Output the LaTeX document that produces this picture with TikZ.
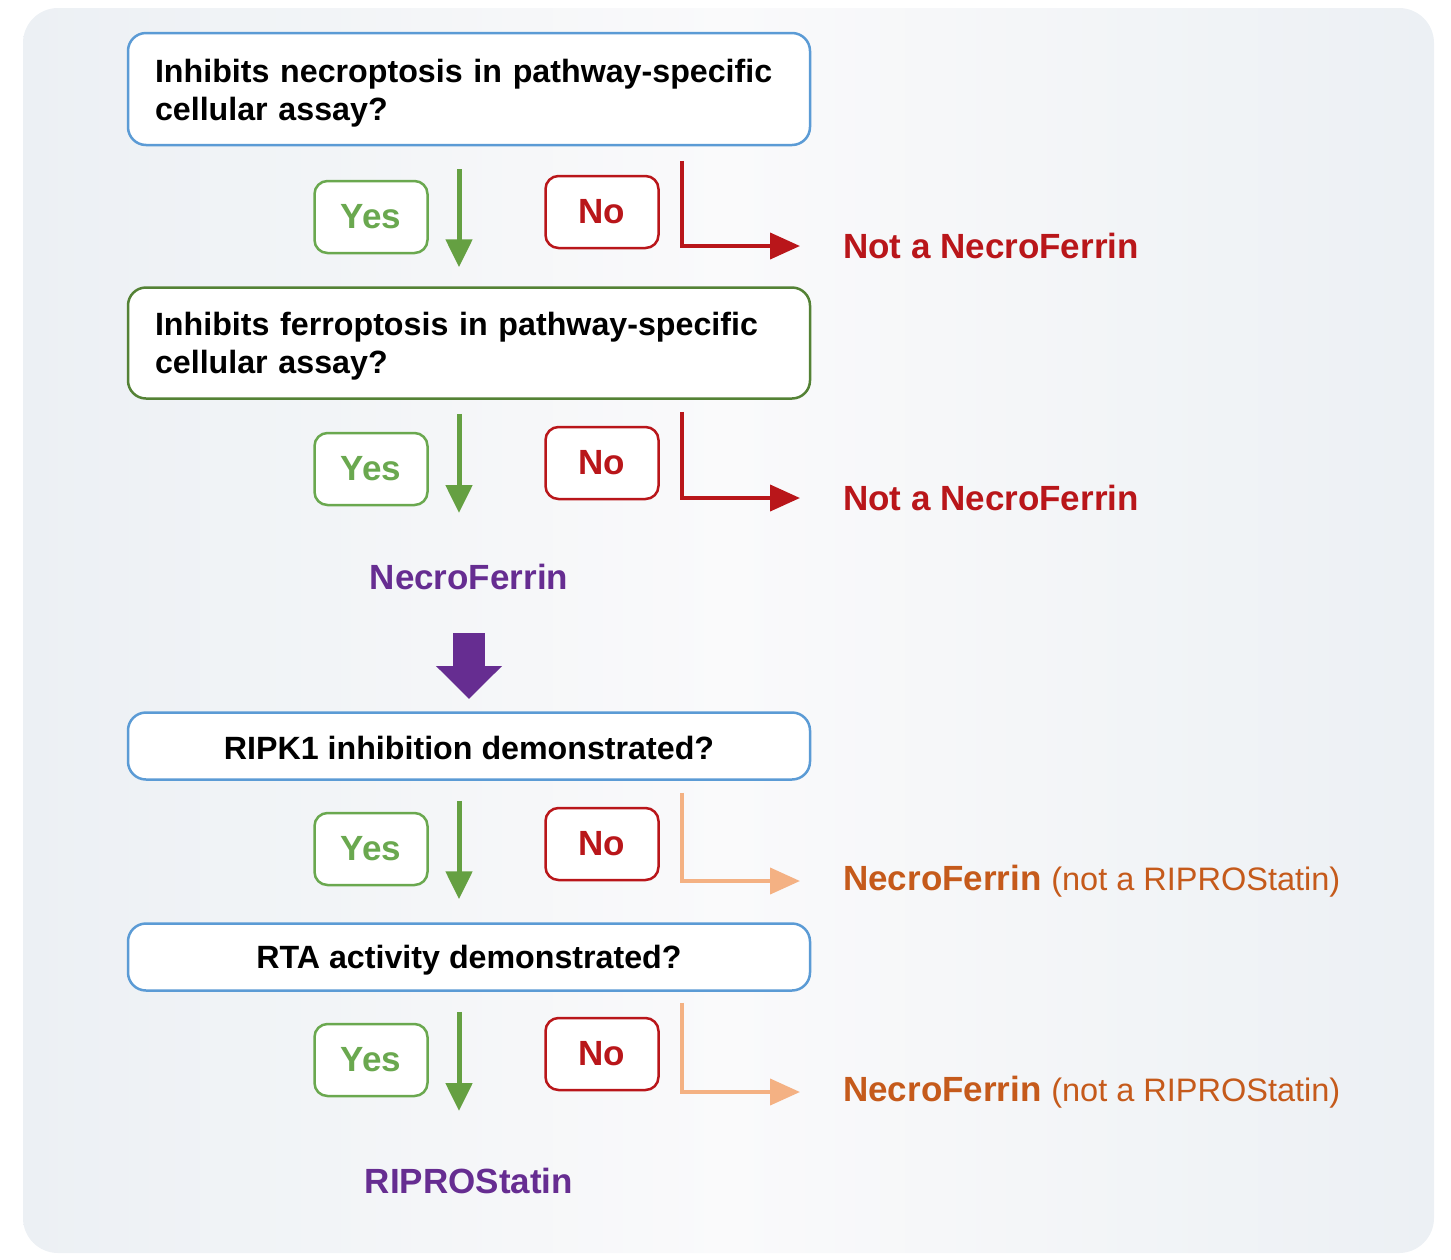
\documentclass[tikz,border=0pt]{standalone}
\usepackage{fontspec}
\setmainfont{Liberation Sans}
\usepackage{xcolor}
\usepackage{tikz}
\usetikzlibrary{arrows.meta}

\definecolor{qblue}{RGB}{91,155,213}
\definecolor{qgreen}{RGB}{84,130,53}
\definecolor{yesgreen}{RGB}{106,168,79}
\definecolor{arrgreen}{RGB}{101,160,66}
\definecolor{nored}{RGB}{185,22,26}
\definecolor{peach}{RGB}{244,177,131}
\definecolor{rust}{RGB}{197,90,27}
\definecolor{plum}{RGB}{102,45,145}
\definecolor{bgside}{RGB}{236,240,244}
\definecolor{bgmid}{RGB}{250,250,251}

\begin{document}
\begin{tikzpicture}[x=1pt,y=-1pt,
    qbox/.style={draw=qblue, line width=2.5pt, rounded corners=18pt, fill=white,
      minimum width=682pt, inner xsep=27pt, font=\fontsize{32.2}{38}\selectfont\bfseries},
    ansbox/.style={draw, line width=2.5pt, rounded corners=13pt, fill=white,
      minimum width=113pt, minimum height=72pt, font=\fontsize{35}{40}\selectfont\bfseries},
    verdict/.style={anchor=west, inner sep=0pt, font=\fontsize{35}{40}\selectfont\bfseries},
    yesline/.style={arrgreen, line width=5pt, -{Triangle[length=28pt,width=26pt]}},
    elbow/.style={line width=4pt, shorten >=43pt, -{Triangle[length=30pt,width=26pt]}}]
          \useasboundingbox (0,0) rectangle (1451,1259);
          \shade[left color=bgside, right color=bgside, middle color=bgmid, rounded corners=35pt]
            (23,8) rectangle (1434,1253);

          % questions
          \node[qbox, minimum height=112pt, text width=628pt, align=left,
                text height=32pt, text depth=45pt] (q1) at (469,89)
            {Inhibits necroptosis in pathway-specific\\cellular assay?};
          \node[qbox, draw=qgreen, minimum height=111pt, text width=628pt, align=left,
                text height=30pt, text depth=45pt] (q2) at (469,343)
            {Inhibits ferroptosis in pathway-specific\\cellular assay?};
          \node[qbox, minimum height=67pt, text height=27pt, text depth=0pt] (q3) at (469,746)
            {RIPK1 inhibition demonstrated?};
          \node[qbox, minimum height=67pt, text height=30pt, text depth=7pt] (q4) at (469,957)
            {RTA activity demonstrated?};

          \node[font=\fontsize{35}{40}\selectfont\bfseries, text=plum] (nf) at (469,577) {NecroFerrin};
          \node[font=\fontsize{35}{40}\selectfont\bfseries, text=plum] (rs) at (469,1181) {RIPROStatin};

          % answers
          \foreach \y\n [count=\i from 1] in {217/212, 469/463, 849/844, 1060/1054}{%
            \node[ansbox, draw=yesgreen, text=yesgreen] (yes\i) at (371,\y) {Yes};
            \node[ansbox, draw=nored, text=nored] (no\i) at (602,\n) {No};
            \coordinate (bend\i) at ([xshift=22pt,yshift=14pt]no\i.north east);
          }

          \node[verdict, text=nored] (out1) at (843,246) {Not a NecroFerrin};
          \node[verdict, text=nored] (out2) at (843,498) {Not a NecroFerrin};
          \node[verdict, text=rust] (out3) at (843,881)
            {NecroFerrin {\mdseries\fontsize{32.5}{40}\selectfont (not a RIPROStatin)}};
          \node[verdict, text=rust] (out4) at (843,1092)
            {NecroFerrin {\mdseries\fontsize{32.5}{40}\selectfont (not a RIPROStatin)}};

          % yes arrows
          \draw[yesline] ([xshift=-10pt,yshift=-23pt]q1.south) -- ([xshift=-10pt,yshift=19pt]q2.north);
          \draw[yesline] ([xshift=-10pt,yshift=-14pt]q2.south) -- ([xshift=-10pt,yshift=64pt]nf.center);
          \draw[yesline] ([xshift=-10pt,yshift=-20pt]q3.south) -- ([xshift=-10pt,yshift=23pt]q4.north);
          \draw[yesline] ([xshift=-10pt,yshift=-20pt]q4.south) -- ([xshift=-10pt,yshift=70pt]rs.center);

          % no arrows
          \foreach \i\c in {1/nored, 2/nored, 3/peach, 4/peach}{
            \draw[elbow, color=\c] (bend\i) |- (out\i.west);
          }

          \draw[plum, line width=32pt, -{Triangle[length=33pt,width=64pt]}]
            ([yshift=-56pt]nf.center) -- ([yshift=47pt]q3.center);
        \end{tikzpicture}
\end{document}
